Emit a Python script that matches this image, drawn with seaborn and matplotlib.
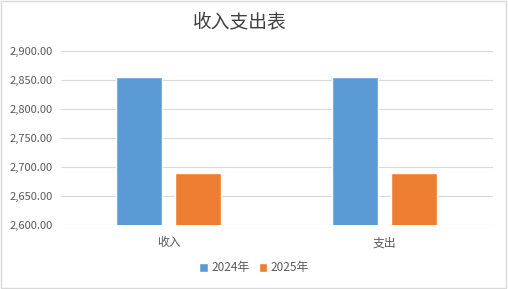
import matplotlib
matplotlib.use("Agg")
import matplotlib.pyplot as plt
import seaborn as sns
import pandas as pd
from matplotlib.patches import Rectangle
from matplotlib.ticker import FuncFormatter

categories = ["收入", "支出"]
years = ["2024年", "2025年"]
values_2024 = [2856, 2856]
values_2025 = [2690, 2690]
title = "收入支出表"

df = pd.DataFrame({
    "cat": categories * 2,
    "year": [years[0]] * 2 + [years[1]] * 2,
    "val": values_2024 + values_2025,
})

sns.set_theme(style="white")
plt.rcParams['font.family'] = ['Noto Sans CJK SC', 'DejaVu Sans']

fig = plt.figure(figsize=(5.08, 2.89), dpi=100)
ax = fig.add_axes([0.120, 0.2204, 0.850, 0.6031])

palette = {"2024年": "#5B9BD5", "2025年": "#ED7D31"}
sns.barplot(data=df, x="cat", y="val", hue="year", palette=palette,
            width=0.546, gap=0.22, ax=ax, saturation=1, legend=True)

ax.set_ylim(2600, 2900)
ax.set_yticks([2600, 2650, 2700, 2750, 2800, 2850, 2900])
ax.yaxis.set_major_formatter(FuncFormatter(lambda v, p: f"{v:,.2f}"))
ax.grid(axis="y", color="#D9D9D9", linewidth=0.8)
ax.set_axisbelow(True)
for s in ax.spines.values():
    s.set_visible(False)
ax.set_xlabel("")
ax.set_ylabel("")
ax.tick_params(axis="y", length=0, labelsize=8, labelcolor="#595959", pad=6)
ax.tick_params(axis="x", length=0, labelsize=8.5, labelcolor="#595959", pad=8)

fig.text(240 / 508, 1 - 22 / 289, title, ha="center", va="center", fontsize=13.5,
         color="#404040")

handles, labels = ax.get_legend_handles_labels()
ax.get_legend().remove()
leg = fig.legend(handles, labels, loc="center", bbox_to_anchor=(0.5, 1 - 268 / 289),
                 ncol=2, frameon=False, fontsize=8.5, handlelength=0.7, handleheight=0.7,
                 handletextpad=0.3, columnspacing=0.8)
for t in leg.get_texts():
    t.set_color("#595959")

fig.patches.append(Rectangle((0.002, 0.003), 0.995, 0.993, transform=fig.transFigure,
                             fill=False, edgecolor="#D9D9D9", linewidth=1))

fig.savefig("out.png", dpi=100)
